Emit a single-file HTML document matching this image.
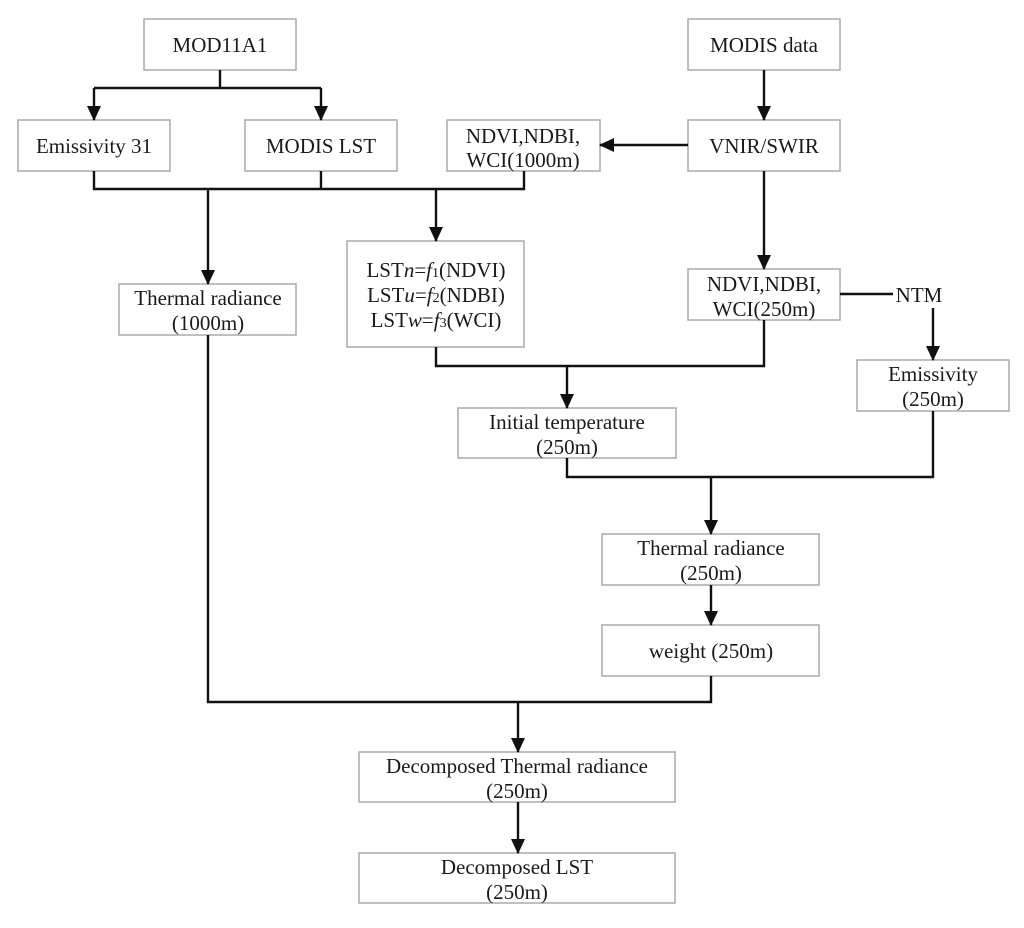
<!DOCTYPE html>
<html><head><meta charset="utf-8"><style>
html,body{margin:0;padding:0;background:#fff;}
svg{display:block;}
text{font-family:"Liberation Serif",serif;font-size:21px;fill:#1a1a1a;text-anchor:middle;}
.b{fill:#fff;stroke:#aaa;stroke-width:1.5;}
.l{stroke:#111;stroke-width:2.4;fill:none;}
</style></head><body>
<svg width="1024" height="928" viewBox="0 0 1024 928">
<defs><marker id="a" markerWidth="16" markerHeight="16" refX="14" refY="7" orient="auto" markerUnits="userSpaceOnUse"><path d="M0,0 L15,7 L0,14 z" fill="#111"/></marker></defs>
<rect class="b" x="144" y="19" width="152" height="51"/>
<rect class="b" x="18" y="120" width="152" height="51"/>
<rect class="b" x="245" y="120" width="152" height="51"/>
<rect class="b" x="447" y="120" width="153" height="51"/>
<rect class="b" x="688" y="19" width="152" height="51"/>
<rect class="b" x="688" y="120" width="152" height="51"/>
<rect class="b" x="119" y="284" width="177" height="51"/>
<rect class="b" x="347" y="241" width="177" height="106"/>
<rect class="b" x="688" y="269" width="152" height="51"/>
<rect class="b" x="857" y="360" width="152" height="51"/>
<rect class="b" x="458" y="408" width="218" height="50"/>
<rect class="b" x="602" y="534" width="217" height="51"/>
<rect class="b" x="602" y="625" width="217" height="51"/>
<rect class="b" x="359" y="752" width="316" height="50"/>
<rect class="b" x="359" y="853" width="316" height="50"/>
<text x="220" y="52">MOD11A1</text>
<text x="94" y="153">Emissivity 31</text>
<text x="321" y="153">MODIS LST</text>
<text x="523" y="143">NDVI,NDBI,</text>
<text x="523" y="167">WCI(1000m)</text>
<text x="764" y="52">MODIS data</text>
<text x="764" y="153">VNIR/SWIR</text>
<text x="208" y="305">Thermal radiance</text>
<text x="208" y="330">(1000m)</text>
<text x="436" y="277">LST<tspan font-style="italic">n</tspan>=<tspan font-style="italic">f</tspan><tspan font-size="14">1</tspan>(NDVI)</text>
<text x="436" y="302">LST<tspan font-style="italic">u</tspan>=<tspan font-style="italic">f</tspan><tspan font-size="14">2</tspan>(NDBI)</text>
<text x="436" y="327">LST<tspan font-style="italic">w</tspan>=<tspan font-style="italic">f</tspan><tspan font-size="14">3</tspan>(WCI)</text>
<text x="764" y="291">NDVI,NDBI,</text>
<text x="764" y="316">WCI(250m)</text>
<text x="919" y="302">NTM</text>
<text x="933" y="381">Emissivity</text>
<text x="933" y="406">(250m)</text>
<text x="567" y="429">Initial temperature</text>
<text x="567" y="454">(250m)</text>
<text x="711" y="555">Thermal radiance</text>
<text x="711" y="580">(250m)</text>
<text x="711" y="658">weight (250m)</text>
<text x="517" y="773">Decomposed Thermal radiance</text>
<text x="517" y="798">(250m)</text>
<text x="517" y="874">Decomposed LST</text>
<text x="517" y="899">(250m)</text>
<path class="l" d="M220,70 V88 M94,88 H321"/>
<path class="l" d="M94,88 V120" marker-end="url(#a)"/>
<path class="l" d="M321,88 V120" marker-end="url(#a)"/>
<path class="l" d="M764,70 V120" marker-end="url(#a)"/>
<path class="l" d="M688,145 H600" marker-end="url(#a)"/>
<path class="l" d="M94,171 V189 H524 V171 M321,171 V189"/>
<path class="l" d="M208,189 V284" marker-end="url(#a)"/>
<path class="l" d="M436,189 V241" marker-end="url(#a)"/>
<path class="l" d="M764,171 V269" marker-end="url(#a)"/>
<path class="l" d="M840,294 H893"/>
<path class="l" d="M933,308 V360" marker-end="url(#a)"/>
<path class="l" d="M436,347 V366 H764 V320"/>
<path class="l" d="M567,366 V408" marker-end="url(#a)"/>
<path class="l" d="M567,458 V477 H933 V411"/>
<path class="l" d="M711,477 V534" marker-end="url(#a)"/>
<path class="l" d="M711,585 V625" marker-end="url(#a)"/>
<path class="l" d="M208,335 V702 H711 V676"/>
<path class="l" d="M518,702 V752" marker-end="url(#a)"/>
<path class="l" d="M518,802 V853" marker-end="url(#a)"/>
</svg>
</body></html>
